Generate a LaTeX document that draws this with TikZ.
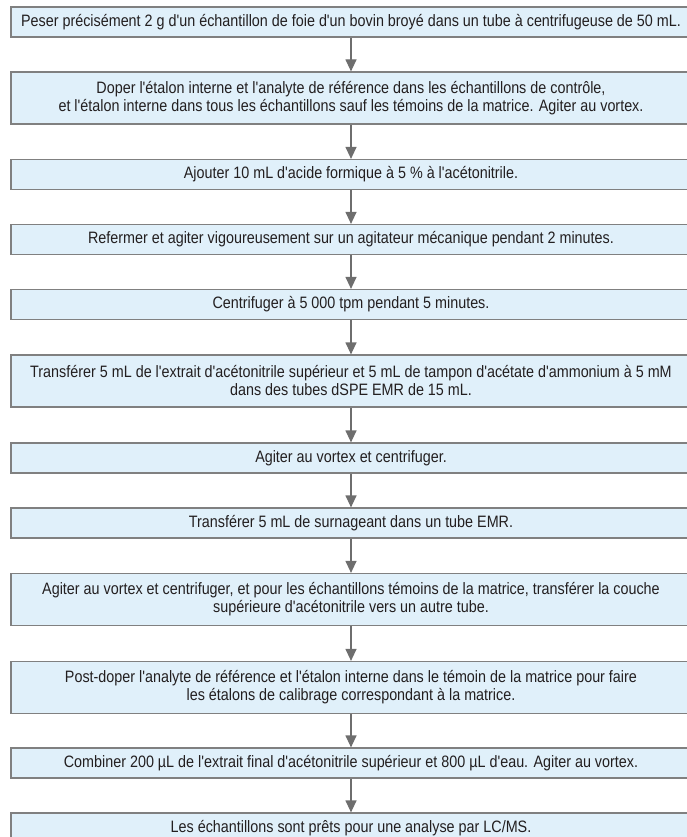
\documentclass[tikz,border=0pt]{standalone}
\usepackage{fontspec}
\setmainfont[FakeStretch=0.87, Ligatures=TeXOff]{Liberation Sans}
\usetikzlibrary{arrows.meta}
\definecolor{boxblue}{RGB}{224,240,250}
\definecolor{boxgray}{RGB}{128,128,128}
\definecolor{arrowgray}{RGB}{110,110,110}
\definecolor{txtblack}{RGB}{35,31,32}
\tikzset{stepbox/.style = {draw = boxgray, fill = boxblue, line width = 1.2pt, minimum width = 680, minimum height = 30, inner sep = 0, align = center, text = txtblack, font = \fontsize{16.5}{18}\selectfont}}
\tikzset{tallbox/.style = {stepbox, minimum height = 52}}
\tikzset{flow/.style = {draw = arrowgray, line width = 1.2pt, -{Triangle[width = 11pt, length = 12pt]}}}

\begin{document}
\begin{tikzpicture}[x = 1pt, y = -1pt]
      \path [use as bounding box, clip] (0, 0) rectangle (687, 837);

      \node [stepbox] (s1) at (351, 22) {Peser précisément 2 g d'un échantillon de foie d'un bovin broyé dans un tube à centrifugeuse de 50 mL.};
      \node [tallbox] (s2) at (351, 98) {Doper l'étalon interne et l'analyte de référence dans les échantillons de contrôle,\\ et l'étalon interne dans tous les échantillons sauf les témoins de la matrice. Agiter au vortex.};
      \node [stepbox] (s3) at (351, 174.5) {Ajouter 10 mL d'acide formique à 5 \% à l'acétonitrile.};
      \node [stepbox] (s4) at (351, 239.5) {Refermer et agiter vigoureusement sur un agitateur mécanique pendant 2 minutes.};
      \node [stepbox] (s5) at (351, 304.5) {Centrifuger à 5 000 tpm pendant 5 minutes.};
      \node [tallbox] (s6) at (351, 381) {Transférer 5 mL de l'extrait d'acétonitrile supérieur et 5 mL de tampon d'acétate d'ammonium à 5 mM\\ dans des tubes dSPE EMR de 15 mL.};
      \node [stepbox] (s7) at (351, 458) {Agiter au vortex et centrifuger.};
      \node [stepbox] (s8) at (351, 523) {Transférer 5 mL de surnageant dans un tube EMR.};
      \node [tallbox] (s9) at (351, 599.5) {Agiter au vortex et centrifuger, et pour les échantillons témoins de la matrice, transférer la couche\\ supérieure d'acétonitrile vers un autre tube.};
      \node [tallbox] (s10) at (351, 687.5) {Post-doper l'analyte de référence et l'étalon interne dans le témoin de la matrice pour faire\\ les étalons de calibrage correspondant à la matrice.};
      \node [stepbox] (s11) at (351, 763) {Combiner 200 µL de l'extrait final d'acétonitrile supérieur et 800 µL d'eau. Agiter au vortex.};
      \node [stepbox] (s12) at (351, 828) {Les échantillons sont prêts pour une analyse par LC/MS.};

      \foreach \a/\b in {s1/s2, s2/s3, s3/s4, s4/s5, s5/s6, s6/s7, s7/s8, s8/s9, s9/s10, s10/s11, s11/s12} {
        \draw [flow] (\a) -- (\b);
      }
    \end{tikzpicture}
\end{document}
